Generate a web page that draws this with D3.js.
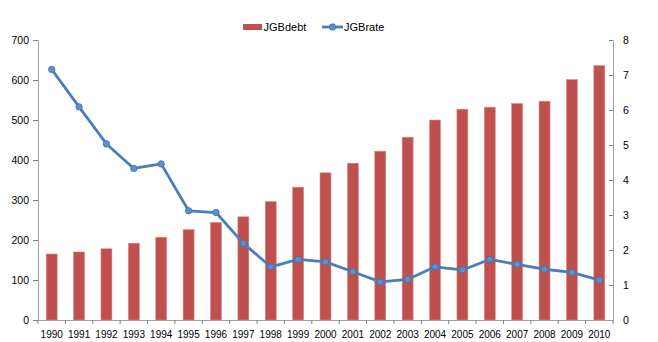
<!DOCTYPE html>
<html lang="en">
<head>
  <meta charset="UTF-8">
  <title>JGB debt and rate</title>
  <script src="https://d3js.org/d3.v7.min.js"></script>
  <style>
    body { margin: 0; background: #fff; }
    text { font-family: "Liberation Sans", Arial, sans-serif; fill: #000; }
  </style>
</head>
<body>
  <div id="chart"></div>
  <script>
    // data
    const years = ["1990", "1991", "1992", "1993", "1994", "1995", "1996", "1997", "1998", "1999", "2000",
      "2001", "2002", "2003", "2004", "2005", "2006", "2007", "2008", "2009", "2010"]
    const jgbDebt = [165, 170, 178, 192, 207, 226, 244, 258, 296, 332, 368,
      392, 422, 457, 500, 527, 532, 541, 547, 601, 636]
    const jgbRate = [7.16, 6.09, 5.03, 4.33, 4.46, 3.12, 3.07, 2.19, 1.52, 1.73, 1.66,
      1.38, 1.09, 1.16, 1.52, 1.43, 1.73, 1.59, 1.45, 1.36, 1.14]
    const leftTicks = [0, 100, 200, 300, 400, 500, 600, 700]
    const rightTicks = [0, 1, 2, 3, 4, 5, 6, 7, 8]

    const W = 658, H = 342
    const margin = { top: 40, right: 45, bottom: 22, left: 38 }
    const width = W - margin.left - margin.right
    const height = H - margin.top - margin.bottom

    const svg = d3.select("#chart").append("svg")
      .attr("width", W)
      .attr("height", H)

    const g = svg.append("g")
      .attr("transform", `translate(${margin.left}, ${margin.top})`)

    // scales
    const x = d3.scaleBand()
      .domain(years)
      .range([0, width])
      .paddingInner(0.6)
      .paddingOuter(0.3)

    const yLeft = d3.scaleLinear().domain([0, 700]).range([height, 0])
    const yRight = d3.scaleLinear().domain([0, 8]).range([height, 0])

    const axisColor = "#a0a0a0"

    // bars
    g.selectAll(".bar")
      .data(years)
      .enter()
      .append("rect")
      .attr("class", "bar")
      .attr("x", d => x(d))
      .attr("y", (d, i) => yLeft(jgbDebt[i]))
      .attr("width", x.bandwidth())
      .attr("height", (d, i) => height - yLeft(jgbDebt[i]))
      .attr("fill", "#C0504D")
      .attr("stroke", "#d98a88")
      .attr("stroke-width", 0.6)

    // left axis
    const leftAxis = g.append("g")
      .call(d3.axisLeft(yLeft).tickValues(leftTicks).tickSize(5).tickSizeOuter(0).tickPadding(4))
    leftAxis.select(".domain").attr("stroke", axisColor)
    leftAxis.selectAll(".tick line").attr("stroke", "#808080")
    leftAxis.selectAll("text").attr("font-size", "10.5px")

    // right axis
    const rightAxis = g.append("g")
      .attr("transform", `translate(${width}, 0)`)
      .call(d3.axisRight(yRight).tickValues(rightTicks).tickSize(-4).tickSizeOuter(0).tickPadding(10))
    rightAxis.select(".domain").attr("stroke", axisColor)
    rightAxis.selectAll(".tick line").attr("stroke", "#808080")
    rightAxis.selectAll("text").attr("font-size", "10.5px")

    // x axis: labels centred, ticks between categories
    const xAxis = g.append("g")
      .attr("transform", `translate(0, ${height})`)
      .call(d3.axisBottom(x).tickSize(0).tickPadding(11))
    xAxis.select(".domain").attr("stroke", axisColor)
    xAxis.selectAll("text").attr("font-size", "10px")

    g.append("g")
      .selectAll("line")
      .data(d3.range(years.length + 1))
      .enter()
      .append("line")
      .attr("x1", i => i * width / years.length)
      .attr("x2", i => i * width / years.length)
      .attr("y1", height)
      .attr("y2", height + 4)
      .attr("stroke", "#808080")

    // rate line
    const line = d3.line()
      .x((d, i) => x(years[i]) + x.bandwidth() / 2)
      .y(d => yRight(d))

    g.append("path")
      .datum(jgbRate)
      .attr("fill", "none")
      .attr("stroke", "#4A7EBB")
      .attr("stroke-width", 2.8)
      .attr("stroke-linejoin", "round")
      .attr("d", line)

    g.selectAll(".dot")
      .data(jgbRate)
      .enter()
      .append("circle")
      .attr("class", "dot")
      .attr("cx", (d, i) => x(years[i]) + x.bandwidth() / 2)
      .attr("cy", d => yRight(d))
      .attr("r", 3.2)
      .attr("fill", "#5B8FD0")
      .attr("stroke", "#3F6EA8")
      .attr("stroke-width", 0.8)

    // legend
    const legend = svg.append("g")
    legend.append("rect")
      .attr("x", 243).attr("y", 24)
      .attr("width", 19).attr("height", 6)
      .attr("fill", "#C0504D")
    legend.append("text")
      .attr("x", 263.5).attr("y", 31)
      .attr("font-size", "11px")
      .text("JGBdebt")
    legend.append("line")
      .attr("x1", 322).attr("x2", 343)
      .attr("y1", 27).attr("y2", 27)
      .attr("stroke", "#4A7EBB").attr("stroke-width", 2.8)
    legend.append("circle")
      .attr("cx", 332.5).attr("cy", 27).attr("r", 3.2)
      .attr("fill", "#5B8FD0").attr("stroke", "#3F6EA8").attr("stroke-width", 0.8)
    legend.append("text")
      .attr("x", 344).attr("y", 31)
      .attr("font-size", "11px")
      .text("JGBrate")
  </script>
</body>
</html>
